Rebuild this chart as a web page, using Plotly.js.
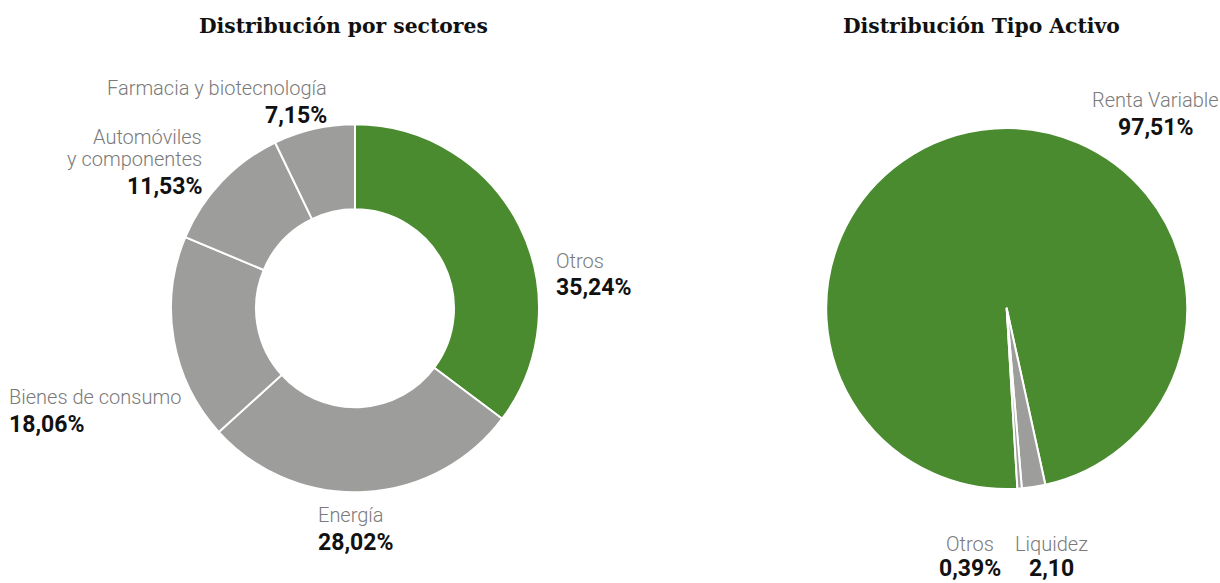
<!DOCTYPE html>
<html><head><meta charset="utf-8">
<script src="https://cdn.plot.ly/plotly-3.0.1.min.js"></script>
<style>html,body{margin:0;padding:0;background:#fff}#chart{width:1220px;height:583px}</style>
</head><body><div id="chart"></div>
<script>
// ---- data ----
const titles = ["Distribución por sectores", "Distribución Tipo Activo"];

const sectorLabels = ["Otros", "Energía", "Bienes de consumo", "Automóviles<br>y componentes", "Farmacia y biotecnología"];
const sectorValues = [35.24, 28.02, 18.06, 11.53, 7.15];
const sectorValueText = ["35,24%", "28,02%", "18,06%", "11,53%", "7,15%"];

const assetLabels = ["Renta Variable", "Liquidez", "Otros"];
const assetValues = [97.51, 2.10, 0.39];
const assetValueText = ["97,51%", "2,10", "0,39%"];

// ---- styles / layout ----
const W = 1220, H = 583;
const GREEN = "#4a8b2f", GREY = "#9d9d9b";
const px = x => x / W, py = y => 1 - y / H;

// label placement (pixels): [x, yOfLastLabelLine, yOfValue, anchor]
const sectorPos = [
  [556, 261, 288, "left"],
  [318, 515, 542, "left"],
  [9, 397, 424, "left"],
  [202, 159, 186, "right"],
  [327, 88, 115, "right"]
];
const assetPos = [
  [1155, 100, 127, "center"],
  [1051, 544, 568, "center"],
  [970, 544, 568, "center"]
];

const labelFont = {family: "Roboto, sans-serif", size: 20, color: "#7a7a7a", weight: 300};
const valueFont = {family: "Roboto, sans-serif", size: 23, color: "#111111", weight: 700};
const titleFont = {family: "'DejaVu Serif', serif", size: 20.3, color: "#111111", weight: 700};

const annotations = [];
function addLabels(labels, vtext, pos) {
  labels.forEach((lab, i) => {
    const [x, yl, yv, anch] = pos[i];
    const lines = lab.split("<br>");
    lines.forEach((ln, k) => {
      annotations.push({text: ln, x: px(x), y: py(yl - 22 * (lines.length - 1 - k)), xref: "paper", yref: "paper",
        xanchor: anch, yanchor: "middle", showarrow: false, font: labelFont, borderpad: 0, borderwidth: 0});
    });
    annotations.push({text: vtext[i], x: px(x), y: py(yv), xref: "paper", yref: "paper",
      xanchor: anch, yanchor: "middle", showarrow: false, font: valueFont, borderpad: 0, borderwidth: 0});
  });
}
addLabels(sectorLabels, sectorValueText, sectorPos);
addLabels(assetLabels, assetValueText, assetPos);

annotations.push({text: titles[0], x: px(343), y: py(26), xref: "paper", yref: "paper", xanchor: "center", yanchor: "middle", showarrow: false, font: titleFont});
annotations.push({text: titles[1], x: px(981.5), y: py(26), xref: "paper", yref: "paper", xanchor: "center", yanchor: "middle", showarrow: false, font: titleFont});

const traces = [
  {
    type: "pie", labels: sectorLabels, values: sectorValues, sort: false, direction: "clockwise", rotation: 0,
    hole: 0.538, textinfo: "none", hoverinfo: "skip", showlegend: false,
    marker: {colors: sectorValues.map((v, i) => i === 0 ? GREEN : GREY), line: {color: "#ffffff", width: 2}},
    domain: {x: [px(171), px(539)], y: [py(492.3), py(124.3)]}
  },
  {
    type: "pie", labels: assetLabels, values: assetValues, sort: false, direction: "clockwise", rotation: 176.6,
    textinfo: "none", hoverinfo: "skip", showlegend: false,
    marker: {colors: assetValues.map((v, i) => i === 0 ? GREEN : GREY), line: {color: "#ffffff", width: 2}},
    domain: {x: [px(826.2), px(1187.2)], y: [py(489), py(128)]}
  }
];

const layout = {
  width: W, height: H, margin: {l: 0, r: 0, t: 0, b: 0},
  paper_bgcolor: "#ffffff", plot_bgcolor: "#ffffff",
  showlegend: false, annotations: annotations, separators: ",."
};
Plotly.newPlot("chart", traces, layout, {displayModeBar: false, staticPlot: true});
</script>
</body></html>
